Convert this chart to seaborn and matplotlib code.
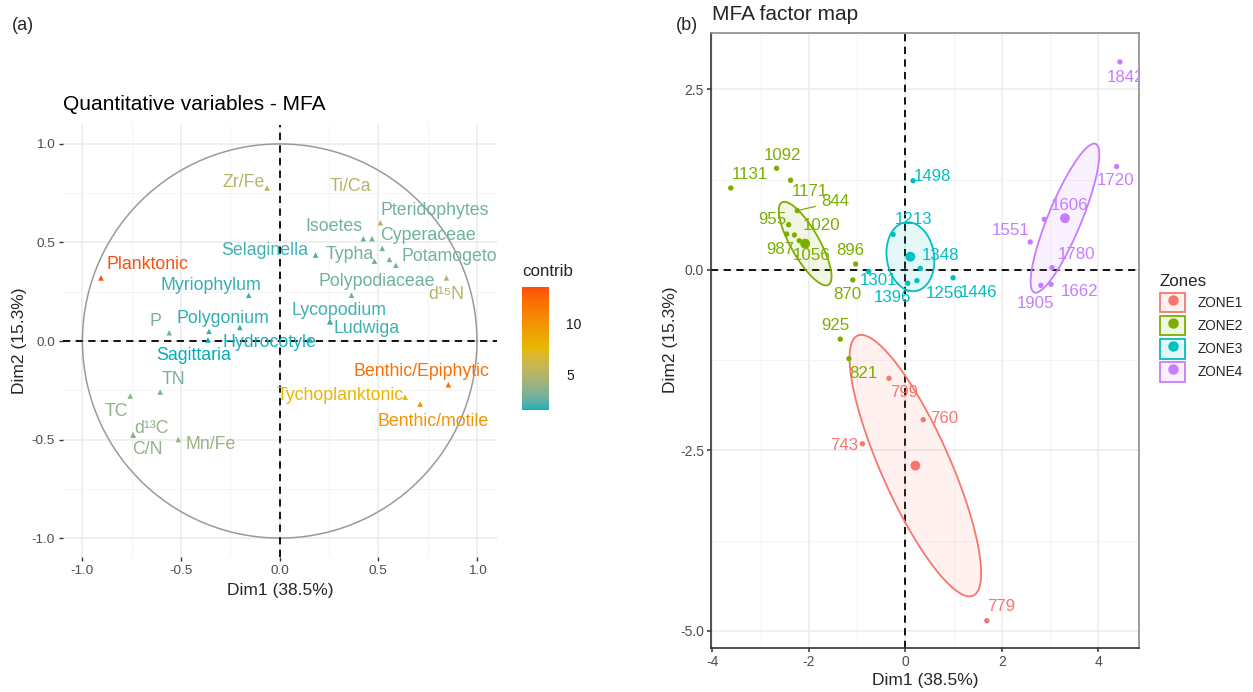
import numpy as np
import matplotlib
matplotlib.use("Agg")
import matplotlib.pyplot as plt
import seaborn as sns
import pandas as pd
from matplotlib.colors import ListedColormap, Normalize, to_rgba
from matplotlib.patches import Patch
from matplotlib.lines import Line2D
from matplotlib.cm import ScalarMappable

# ---------------- data: panel (a) quantitative variables ----------------
var_names = ["Planktonic", "Myriophylum", "P", "Polygonium", "", "Sagittaria",
             "Hydrocotyle", "Lycopodium", "Ludwiga", "Polypodiaceae", "Selaginella",
             "Ti/Ca", "Isoetes", "Pteridophytes", "Cyperaceae", "Typha", "Potamogeton", "",
             "d¹⁵N", "Zr/Fe", "TN", "TC", "d¹³C", "C/N", "Mn/Fe",
             "Benthic/Epiphytic", "Tychoplanktonic", "Benthic/motile"]
var_dim1 = [-0.906, -0.157, -0.56, -0.202, -0.358, -0.364,
            0.155, 0.254, 0.256, 0.364, 0.182,
            0.51, 0.424, 0.468, 0.52, 0.48, 0.589, 0.556,
            0.845, -0.064, -0.606, -0.758, -0.744, -0.742, -0.514,
            0.855, 0.636, 0.712]
var_dim2 = [0.32, 0.232, 0.042, 0.069, 0.049, 0.005,
            0.005, 0.099, 0.097, 0.232, 0.436,
            0.60, 0.519, 0.519, 0.47, 0.405, 0.384, 0.414,
            0.32, 0.776, -0.259, -0.279, -0.475, -0.478, -0.50,
            -0.222, -0.285, -0.32]
var_contrib = [13.6, 1.8, 3.0, 1.7, 1.8, 1.5,
               1.6, 1.9, 1.9, 2.7, 1.9,
               5.0, 2.7, 2.7, 2.7, 2.7, 2.8, 2.7,
               5.0, 5.0, 2.9, 3.6, 3.7, 3.7, 4.0,
               12.0, 7.6, 10.0]

# ---------------- data: panel (b) individuals ----------------
ind_labels = ["743", "760", "779", "799",
              "821", "844", "870", "896", "925", "955", "987", "1020", "1056", "1092", "1131", "1171",
              "1213", "1256", "1301", "1348", "1396", "1446", "1498",
              "1551", "1606", "1662", "1720", "1780", "1842", "1905"]
ind_dim1 = [-0.89, 0.37, 1.69, -0.34,
            -1.17, -2.24, -1.09, -1.03, -1.35, -2.42, -2.46, -2.30, -2.20, -2.67, -3.62, -2.38,
            -0.255, 0.24, -0.76, 0.31, 0.05, 0.99, 0.16,
            2.59, 2.88, 3.02, 4.38, 3.04, 4.45, 2.81]
ind_dim2 = [-2.41, -2.076, -4.86, -1.503,
            -1.23, 0.82, -0.14, 0.08, -0.96, 0.625, 0.496, 0.482, 0.403, 1.406, 1.133, 1.24,
            0.49, -0.15, -0.026, 0.02, -0.187, -0.11, 1.234,
            0.385, 0.70, -0.20, 1.43, 0.03, 2.88, -0.215]
ind_zone = ["ZONE1"] * 4 + ["ZONE2"] * 12 + ["ZONE3"] * 7 + ["ZONE4"] * 7

zones = ["ZONE1", "ZONE2", "ZONE3", "ZONE4"]
a_ticks = [-1.0, -0.5, 0.0, 0.5, 1.0]
a_ticklabels = ["-1.0", "-0.5", "0.0", "0.5", "1.0"]
b_xticks = [-4, -2, 0, 2, 4]
b_xticklabels = ["-4", "-2", "0", "2", "4"]
b_yticks = [-5.0, -2.5, 0.0, 2.5]
b_yticklabels = ["-5.0", "-2.5", "0.0", "2.5"]

# ---------------- layout (label placement, as produced by repel) ----------------
label_pos_a = {
    "Zr/Fe": (-0.184, 0.802), "Ti/Ca": (0.356, 0.785), "Pteridophytes": (0.787, 0.661),
    "Isoetes": (0.277, 0.579), "Cyperaceae": (0.753, 0.535), "Selaginella": (-0.075, 0.458),
    "Typha": (0.356, 0.438), "Potamogeton": (0.884, 0.430), "Planktonic": (-0.669, 0.387),
    "Myriophylum": (-0.348, 0.281), "Polypodiaceae": (0.492, 0.303), "d¹⁵N": (0.846, 0.235),
    "P": (-0.628, 0.10), "Polygonium": (-0.286, 0.112), "Lycopodium": (0.302, 0.155),
    "Ludwiga": (0.441, 0.061), "Hydrocotyle": (-0.053, -0.007), "Sagittaria": (-0.438, -0.075),
    "TN": (-0.536, -0.196), "Benthic/Epiphytic": (0.72, -0.157), "TC": (-0.83, -0.36),
    "d¹³C": (-0.649, -0.442), "C/N": (-0.669, -0.548), "Mn/Fe": (-0.35, -0.523),
    "Tychoplanktonic": (0.306, -0.278), "Benthic/motile": (0.779, -0.411),
}
label_pos_b = {
    "1092": (-2.55, 1.59), "1131": (-3.22, 1.327), "1171": (-1.98, 1.08), "844": (-1.45, 0.943),
    "955": (-2.76, 0.70), "1020": (-1.745, 0.607), "987": (-2.59, 0.288), "1056": (-1.95, 0.205),
    "896": (-1.14, 0.274), "870": (-1.195, -0.335), "1301": (-0.55, -0.15), "1396": (-0.275, -0.38),
    "1213": (0.16, 0.69), "1348": (0.725, 0.205), "1498": (0.565, 1.29), "1256": (0.82, -0.325),
    "1446": (1.52, -0.31), "925": (-1.45, -0.774), "1720": (4.36, 1.234), "1606": (3.40, 0.884),
    "1551": (2.19, 0.551), "1780": (3.55, 0.215), "1905": (2.69, -0.464), "1662": (3.62, -0.294),
    "821": (-0.876, -1.433), "799": (-0.035, -1.70), "760": (0.81, -2.057), "743": (-1.277, -2.427),
    "779": (1.99, -4.667), "1842": (4.57, 2.667),
}
segment_labels = {"844"}

# ---------------- style ----------------
sns.set_theme(style="white")
plt.rcParams["font.family"] = ["Liberation Sans", "DejaVu Sans"]
plt.rcParams["axes.unicode_minus"] = False

zone_colors = dict(zip(zones, ["#F8766D", "#7CAE00", "#00BFC4", "#C77CFF"]))

# Lab-interpolated gradient (teal -> yellow -> orange-red)
M = np.array([[0.4124564, 0.3575761, 0.1804375],
              [0.2126729, 0.7151522, 0.0721750],
              [0.0193339, 0.1191920, 0.9503041]])
WP = np.array([0.95047, 1.0, 1.08883])


def srgb_to_lab(rgb):
    rgb = np.asarray(rgb, float)
    lin = np.where(rgb <= 0.04045, rgb / 12.92, ((rgb + 0.055) / 1.055) ** 2.4)
    xyz = lin @ M.T / WP
    d = 6 / 29
    f = np.where(xyz > d ** 3, np.cbrt(xyz), xyz / (3 * d ** 2) + 4 / 29)
    return np.stack([116 * f[..., 1] - 16, 500 * (f[..., 0] - f[..., 1]), 200 * (f[..., 1] - f[..., 2])], -1)


def lab_to_srgb(lab):
    d = 6 / 29
    fy_ = (lab[..., 0] + 16) / 116
    fx_ = fy_ + lab[..., 1] / 500
    fz_ = fy_ - lab[..., 2] / 200
    finv = lambda t: np.where(t > d, t ** 3, 3 * d ** 2 * (t - 4 / 29))
    xyz = np.stack([finv(fx_), finv(fy_), finv(fz_)], -1) * WP
    lin = np.clip(xyz @ np.linalg.inv(M).T, 0, 1)
    return np.clip(np.where(lin <= 0.0031308, 12.92 * lin, 1.055 * lin ** (1 / 2.4) - 0.055), 0, 1)


grad_hex = ["#00AFBB", "#E7B800", "#FC4E07"]
grad_lab = srgb_to_lab(np.array([matplotlib.colors.to_rgb(c) for c in grad_hex]))
t = np.linspace(0, 1, 256)
pos = np.linspace(0, 1, len(grad_hex))
lab_samples = np.stack([np.interp(t, pos, grad_lab[:, k]) for k in range(3)], -1)
cmap = ListedColormap(lab_to_srgb(lab_samples))
norm = Normalize(vmin=min(var_contrib), vmax=max(var_contrib))

W, H = 1253, 692
fig = plt.figure(figsize=(W / 100, H / 100), dpi=100)


def fx(px):
    return px / W


def fy(py):
    return 1 - py / H


# ================= panel (a) =================
ax1 = fig.add_axes([fx(63.3), fy(557), (496.7 - 63.3) / W, (557 - 125) / H])
ax1.set_xlim(-1.097, 1.10)
ax1.set_ylim(-1.096, 1.096)
ax1.set_xticks(a_ticks)
ax1.set_yticks(a_ticks)
ax1.set_xticks(np.arange(-1.0, 1.01, 0.25), minor=True)
ax1.set_yticks(np.arange(-1.0, 1.01, 0.25), minor=True)
ax1.set_xticklabels(a_ticklabels)
ax1.set_yticklabels(a_ticklabels)
ax1.grid(which="major", color="#EBEBEB", lw=1.1)
ax1.grid(which="minor", color="#F3F3F3", lw=0.6)
ax1.set_axisbelow(True)
for s in ax1.spines.values():
    s.set_visible(False)
ax1.tick_params(which="major", length=3, width=1, color="#333333", labelsize=9.7,
                labelcolor="#4D4D4D", pad=3, bottom=True, left=True)
ax1.tick_params(which="minor", length=0)

theta = np.linspace(0, 2 * np.pi, 361)
ax1.plot(np.cos(theta), np.sin(theta), color="#9A9A9A", lw=1.1, zorder=1)
ax1.axhline(0, color="black", lw=1.3, ls=(0, (4, 3)), zorder=1.5)
ax1.axvline(0, color="black", lw=1.3, ls=(0, (4, 3)), zorder=1.5)

df_var = pd.DataFrame({"name": var_names, "Dim1": var_dim1, "Dim2": var_dim2, "contrib": var_contrib})
sns.scatterplot(data=df_var, x="Dim1", y="Dim2", hue="contrib", palette=cmap, hue_norm=norm,
                marker="^", s=16, edgecolor="none", legend=False, ax=ax1, zorder=3)
for _, r in df_var.iterrows():
    if r["name"] and r["name"] in label_pos_a:
        lx, ly = label_pos_a[r["name"]]
        ax1.text(lx, ly, r["name"], color=cmap(norm(r["contrib"])), fontsize=12.8,
                 ha="center", va="center", clip_on=True, zorder=4)
ax1.set_xlabel("")
ax1.set_ylabel("")

fig.text(fx(63), fy(104), "Quantitative variables - MFA", fontsize=15, ha="left", va="center", color="black")
fig.text(fx(280), fy(590), "Dim1 (38.5%)", fontsize=12.5, ha="center", va="center")
fig.text(fx(20), fy(341), "Dim2 (15.3%)", fontsize=12.5, ha="center", va="center", rotation=90)
fig.text(fx(12), fy(25), "(a)", fontsize=13, ha="left", va="center")

# colorbar
cax = fig.add_axes([fx(522.3), fy(410), 27 / W, (410 - 286.7) / H])
sm = ScalarMappable(norm=norm, cmap=cmap)
cb = fig.colorbar(sm, cax=cax, ticks=[5, 10])
cb.outline.set_visible(False)
cb.ax.tick_params(direction="in", color="white", length=4, width=1, left=True, right=True,
                  labelsize=10, labelcolor="#1A1A1A", pad=12)
fig.text(fx(522), fy(271), "contrib", fontsize=12.2, ha="left", va="center")

# ================= panel (b) =================
ax2 = fig.add_axes([fx(711), fy(648), (1139 - 711) / W, (648 - 33) / H])
ax2.set_xlim(-4.03, 4.845)
ax2.set_ylim(-5.238, 3.28)
ax2.set_xticks(b_xticks)
ax2.set_xticklabels(b_xticklabels)
ax2.set_yticks(b_yticks)
ax2.set_yticklabels(b_yticklabels)
ax2.set_xticks([-3, -1, 1, 3], minor=True)
ax2.set_yticks([-3.75, -1.25, 1.25], minor=True)
ax2.grid(which="major", color="#EBEBEB", lw=1.1)
ax2.grid(which="minor", color="#F3F3F3", lw=0.6)
ax2.set_axisbelow(True)
for k in ["left", "bottom"]:
    ax2.spines[k].set_color("#333333")
    ax2.spines[k].set_linewidth(1.2)
for k in ["top", "right"]:
    ax2.spines[k].set_color("#8C8C8C")
    ax2.spines[k].set_linewidth(1.2)
ax2.tick_params(which="major", length=3, width=1.1, color="#333333", labelsize=10,
                labelcolor="#4D4D4D", pad=2, bottom=True, left=True)
ax2.tick_params(which="minor", length=0)
ax2.axhline(0, color="black", lw=1.3, ls=(0, (4, 3)), zorder=1.5)
ax2.axvline(0, color="black", lw=1.3, ls=(0, (4, 3)), zorder=1.5)

df_ind = pd.DataFrame({"label": ind_labels, "Dim1": ind_dim1, "Dim2": ind_dim2, "Zone": ind_zone})

# confidence ellipses around group means
chi = np.sqrt(-2 * np.log(0.05))
ang = np.linspace(0, 2 * np.pi, 101)
for z in zones:
    g = df_ind[df_ind["Zone"] == z][["Dim1", "Dim2"]].to_numpy()
    c = g.mean(axis=0)
    cov = np.cov(g.T) / len(g)
    vals, vecs = np.linalg.eigh(cov)
    circ = np.stack([np.cos(ang), np.sin(ang)])
    pts = (vecs @ np.diag(np.sqrt(vals)) @ circ) * chi + c[:, None]
    ax2.fill(pts[0], pts[1], color=zone_colors[z], alpha=0.1, lw=0, zorder=2)
    ax2.plot(pts[0], pts[1], color=zone_colors[z], lw=1.3, zorder=2.5)

sns.scatterplot(data=df_ind, x="Dim1", y="Dim2", hue="Zone", palette=zone_colors, s=15,
                edgecolor="none", legend=False, ax=ax2, zorder=3)
centroids = df_ind.groupby("Zone", as_index=False)[["Dim1", "Dim2"]].mean()
sns.scatterplot(data=centroids, x="Dim1", y="Dim2", hue="Zone", palette=zone_colors, s=50,
                edgecolor="none", legend=False, ax=ax2, zorder=3)

for _, r in df_ind.iterrows():
    lx, ly = label_pos_b[r["label"]]
    col = zone_colors[r["Zone"]]
    if r["label"] in segment_labels:
        ax2.annotate(r["label"], xy=(r["Dim1"], r["Dim2"]), xytext=(lx, ly), color=col,
                     fontsize=12.2, ha="center", va="center", annotation_clip=True, zorder=4,
                     arrowprops=dict(arrowstyle="-", color=col, lw=0.9, shrinkA=2, shrinkB=2))
    else:
        ax2.text(lx, ly, r["label"], color=col, fontsize=12.2, ha="center", va="center",
                 clip_on=True, zorder=4)
ax2.set_xlabel("")
ax2.set_ylabel("")

fig.text(fx(711.5), fy(15), "MFA factor map", fontsize=15, ha="left", va="center")
fig.text(fx(925), fy(681), "Dim1 (38.5%)", fontsize=12.5, ha="center", va="center")
fig.text(fx(671), fy(340), "Dim2 (15.3%)", fontsize=12.5, ha="center", va="center", rotation=90)
fig.text(fx(676), fy(25), "(b)", fontsize=13, ha="left", va="center")

# legend
handles = [(Patch(facecolor=to_rgba(zone_colors[z], 0.1), edgecolor=zone_colors[z], lw=1.3),
            Line2D([], [], marker="o", color=zone_colors[z], ls="", markersize=6.5))
           for z in zones]
leg = fig.legend(handles, zones, title="Zones", loc="upper left",
                 bbox_to_anchor=(fx(1160), fy(274)), frameon=False, fontsize=9.8,
                 title_fontsize=12.2, handlelength=1.85, handleheight=1.85,
                 labelspacing=0.26, handletextpad=0.9, borderaxespad=0, borderpad=0)
leg._legend_box.align = "left"

fig.savefig("out.png", dpi=100)
